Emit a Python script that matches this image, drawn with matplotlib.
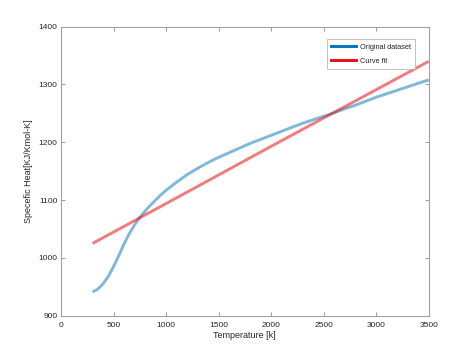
import matplotlib
matplotlib.use("Agg")
import matplotlib.pyplot as plt
from matplotlib.lines import Line2D

plt.rcParams['font.family'] = ['Liberation Sans', 'DejaVu Sans']

# Original dataset
temp = [300, 350, 400, 450, 500, 550, 600, 650, 700, 750, 800, 850, 900, 950, 1000,
        1100, 1200, 1300, 1400, 1500, 1600, 1700, 1800, 1900, 2000, 2100, 2200, 2300,
        2400, 2500, 2600, 2700, 2800, 2900, 3000, 3100, 3200, 3300, 3400, 3500]
cp = [941, 946, 955, 968, 985, 1004, 1024, 1042, 1057, 1070, 1081, 1091, 1100, 1109, 1117,
      1131, 1144, 1155, 1165, 1174, 1182, 1190, 1198, 1205, 1212, 1219, 1226, 1233,
      1239, 1245, 1251, 1258, 1264, 1271, 1278, 1284, 1290, 1296, 1302, 1308]

# Curve fit
fit_temp = [300, 1000, 2000, 3000, 3500]
fit_cp = [1025, 1094, 1193, 1291, 1340]

fig = plt.figure(figsize=(4.74, 3.55), dpi=100)
ax = fig.add_axes([0.1287, 0.1107, 0.7757, 0.8141])

blue = "#0072BD"
red = "#E81010"
ax.plot(temp, cp, color=blue, lw=2.1, alpha=0.5, solid_capstyle="butt")
ax.plot(fit_temp, fit_cp, color=red, lw=2.1, alpha=0.55, solid_capstyle="butt")

handles = [Line2D([], [], color=blue, lw=2.1), Line2D([], [], color=red, lw=2.1)]
leg = ax.legend(handles, ["Original dataset", "Curve fit"], loc="upper right",
                bbox_to_anchor=(0.9628, 0.9574), borderaxespad=0, fontsize=5.3,
                frameon=True, fancybox=False, edgecolor="#a8a8a8",
                handlelength=3.3, borderpad=0.6, labelspacing=0.95,
                handletextpad=0.55)
leg.get_frame().set_linewidth(0.6)
for t in leg.get_texts():
    t.set_color("#262626")

ax.set_xlim(0, 3500)
ax.set_ylim(900, 1400)
ax.set_xticks(range(0, 3501, 500))
ax.set_yticks(range(900, 1401, 100))
ax.tick_params(direction="in", top=True, right=True, length=3, width=0.6,
               labelsize=6, colors="#8c8c8c", labelcolor="#262626")
ax.tick_params(axis="x", pad=4.3)
ax.tick_params(axis="y", pad=2.7)
for s in ax.spines.values():
    s.set_color("#a0a0a0")
    s.set_linewidth(0.8)
ax.set_xlabel("Temperature [k]", fontsize=6.5, color="#262626", labelpad=1.5)
ax.set_ylabel("Specefic Heat[KJ/Kmol-K]", fontsize=6.5, color="#262626", labelpad=3.5)

fig.savefig("out.png", dpi=100)
